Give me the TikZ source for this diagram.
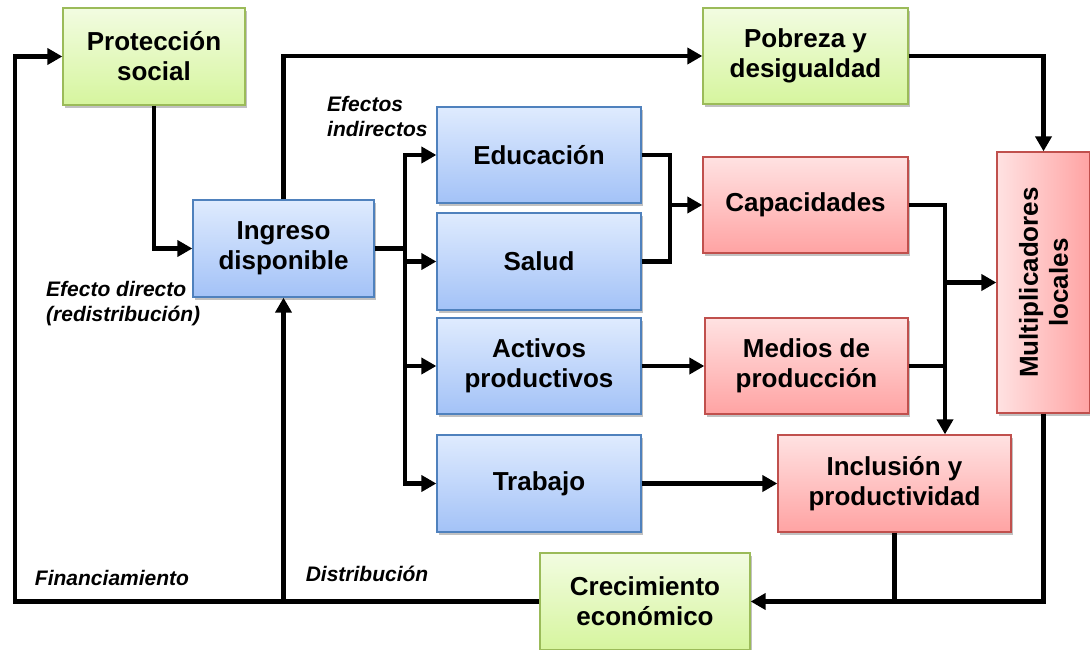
\documentclass[tikz,border=0pt]{standalone}
\usepackage{fontspec}
\setmainfont{Liberation Sans}
\usetikzlibrary{arrows.meta,shadows}
\definecolor{gtop}{HTML}{F2FCE1}
\definecolor{gbot}{HTML}{D6F59E}
\definecolor{gbrd}{HTML}{9BBB59}
\definecolor{btop}{HTML}{DFEBFE}
\definecolor{bbot}{HTML}{A3C2F7}
\definecolor{bbrd}{HTML}{4F81BD}
\definecolor{rtop}{HTML}{FFE2E2}
\definecolor{rbot}{HTML}{FFA3A3}
\definecolor{rbrd}{HTML}{C0504D}
\tikzset{
  boxfont/.style={font=\fontsize{26}{30}\selectfont\bfseries},
  boxbase/.style={draw, line width=1.3pt, align=center, inner sep=2pt, boxfont,
    drop shadow={shadow xshift=2pt, shadow yshift=-3pt, opacity=0.35, fill=black!70}},
  gbox/.style={boxbase, draw=gbrd, top color=gtop, bottom color=gbot},
  bbox/.style={boxbase, draw=bbrd, top color=btop, bottom color=bbot},
  rbox/.style={boxbase, draw=rbrd, top color=rtop, bottom color=rbot},
  conn/.style={line width=4.8pt, line join=miter, black},
  arr/.style={conn, -{Triangle[length=15pt,width=16pt]}},
  lbl/.style={font=\fontsize{21}{25}\selectfont\bfseries\itshape, inner sep=0pt, align=left}
}
\begin{document}
\begin{tikzpicture}[x=1pt,y=-1pt]
\useasboundingbox (0,0) rectangle (1090,650);
% boxes
\node[gbox, minimum width=182pt, minimum height=97pt] (prot) at (154,56.5) {Protección\\social};
\node[gbox, minimum width=205pt, minimum height=96pt] (pob) at (805.5,56) {Pobreza y\\desigualdad};
\node[bbox, minimum width=181pt, minimum height=97pt] (ing) at (283.5,248.5) {Ingreso\\disponible};
\node[bbox, minimum width=204pt, minimum height=96pt] (edu) at (539,155) {Educación};
\node[bbox, minimum width=204pt, minimum height=97pt] (sal) at (539,261.5) {Salud};
\node[bbox, minimum width=204pt, minimum height=96pt] (act) at (539,366) {Activos\\productivos};
\node[bbox, minimum width=204pt, minimum height=97pt] (trab) at (539,483.5) {Trabajo};
\node[rbox, minimum width=205pt, minimum height=96pt] (cap) at (805.5,205) {Capacidades};
\node[rbox, minimum width=203pt, minimum height=96pt] (med) at (806.5,366) {Medios de\\producción};
\node[boxbase, draw=rbrd, left color=rtop, right color=rbot, minimum width=93pt, minimum height=261pt] (mult) at (1043.5,282.5) {};
\node[boxfont, align=center, rotate=90] (multt) at (mult.center) {Multiplicadores\\locales};
\node[rbox, minimum width=233pt, minimum height=97pt] (incl) at (894.5,483.5) {Inclusión y\\productividad};
\node[gbox, minimum width=210pt, minimum height=97pt] (crec) at (645,601.5) {Crecimiento\\económico};
% labels
\node[lbl, anchor=north west] (lei) at (327,96) {Efectos\\indirectos};
\node[lbl, anchor=north west] (led) at (46,281) {Efecto directo\\(redistribución)};
\node[lbl] (lfin) at (112,578) {Financiamiento};
\node[lbl] (ldis) at (367,574) {Distribución};
% coordinates
\coordinate (bl) at (15,601.5);
\coordinate (sp) at (405,248.5);
\coordinate (j1) at (670,205);
\coordinate (j2) at (945,282.5);
% connectors
\draw[arr] (prot.south) |- (ing.west);
\draw[arr] (crec.west) -- (bl) |- (prot.west);
\draw[arr] (ing.south |- bl) -- (ing.south);
\draw[arr] (ing.north) |- (pob.west);
\draw[conn] (ing.east) -- (sp);
\draw[arr] (sp) |- (edu.west);
\draw[arr] (sp) |- (sal.west);
\draw[arr] (sp) |- (act.west);
\draw[arr] (sp) |- (trab.west);
\draw[conn] (edu.east) -| (j1);
\draw[conn] (sal.east) -| (j1);
\draw[arr] (j1) -- (cap.west);
\draw[arr] (act.east) -- (med.west);
\draw[arr] (trab.east) -- (incl.west);
\draw[arr] (cap.east) -| (j2 |- incl.north);
\draw[conn] (med.east) -| (j2);
\draw[arr] (j2) -- (mult.west);
\draw[arr] (pob.east) -| (mult.north);
\draw[arr] (mult.south) |- (crec.east);
\draw[conn] (incl.south) -- (incl.south |- crec.east);
\end{tikzpicture}
\end{document}
